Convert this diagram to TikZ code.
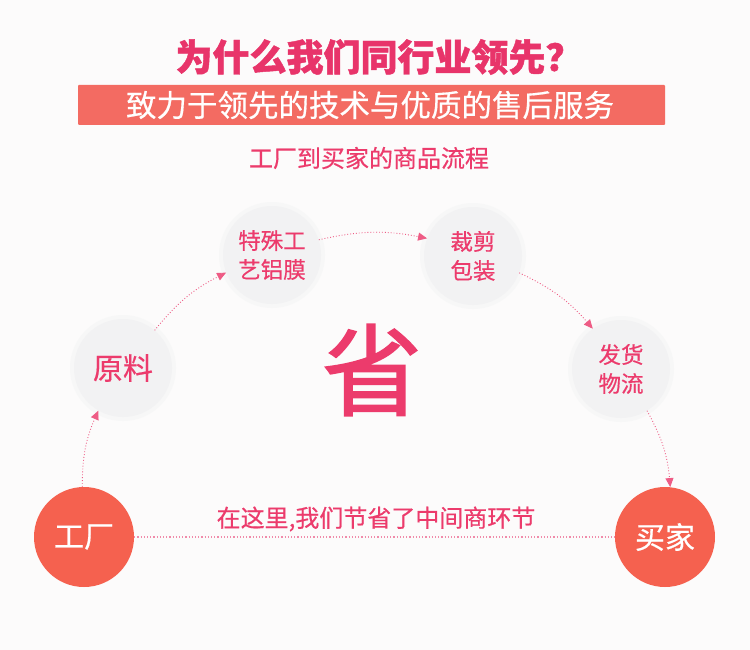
\documentclass[tikz,border=0pt]{standalone}
\usepackage{fontspec}
\setmainfont{Noto Sans CJK SC}
\newfontfamily\medfam[FakeBold=0.5]{Noto Sans CJK SC}
\newfontfamily\bigfam[FakeBold=1.6]{Noto Sans CJK SC}
\newfontfamily\titlefam[BoldFeatures={FakeBold=1.2}]{Noto Sans CJK SC}
\usetikzlibrary{arrows.meta}
\definecolor{bgc}{HTML}{FCFBFB}
\definecolor{titlec}{HTML}{E8346A}
\definecolor{bannerc}{HTML}{F36B62}
\definecolor{pinkt}{HTML}{EC3B6C}
\definecolor{redc}{HTML}{F5614F}
\definecolor{grayc}{HTML}{F2F2F3}
\definecolor{halo}{HTML}{F7F7F7}
\definecolor{linec}{HTML}{EE5C85}
\definecolor{dotc}{HTML}{F08BAA}
\tikzset{
  stepnode/.style={circle, fill=grayc, minimum size=98pt, inner sep=0pt, align=center,
     text=pinkt, font=\medfam\fontsize{22.5}{29}\selectfont},
  endnode/.style={circle, fill=redc, minimum size=100pt, inner sep=0pt,
     text=white, font=\medfam\fontsize{30}{34}\selectfont},
  flow/.style={draw=linec, line width=0.9pt, dotted, bend left=12,
     -{Triangle[length=9pt,width=8pt,fill=linec]}},
}
\begin{document}
\begin{tikzpicture}[x=1pt,y=-1pt]
\useasboundingbox (0,0) rectangle (750,650);
\fill[bgc] (0,0) rectangle (750,650);
% title
\node[text=titlec, font=\titlefam\bfseries\fontsize{37}{42}\selectfont] (title) at (379,57) {为什么我们同行业领先？};
\node[fill=bannerc, minimum width=587pt, minimum height=40pt, inner sep=0pt, rounded corners=1pt] (banner) at (371.5,105) {};
\node[text=white, font=\medfam\fontsize{30.5}{34}\selectfont] (bannertext) at (370,105) {致力于领先的技术与优质的售后服务};
\node[text=pinkt, font=\medfam\fontsize{24}{28}\selectfont] (sub) at (369,158) {工厂到买家的商品流程};
% big character
\node[text=pinkt, font=\bigfam\fontsize{100}{104}\selectfont] (sheng) at (372,370) {省};
% halos
\foreach \p in {(123,368),(272,255),(473,256),(621,369)} \fill[halo] \p circle (53);
% nodes
\node[stepnode, font=\medfam\fontsize{30}{34}\selectfont] (raw) at (123,368) {原料};
\node[stepnode] (film) at (272,255) {特殊工\\艺铝膜};
\node[stepnode] (cut) at (473,256) {裁剪\\包装};
\node[stepnode] (ship) at (621,369) {发货\\物流};
\node[endnode] (fac) at (84,537) {工厂};
\node[endnode] (buy) at (665,537) {买家};
% connectors
\draw[flow] (fac.92) to (raw.240);
\draw[flow] (raw.50) to (film.201);
\draw[flow] (film.18) to (cut.159);
\draw[flow] (cut.340) to (ship.125);
\draw[flow] (ship.302) to (buy.84);
\draw[dotc, line width=1.2pt, dotted] (fac.east) -- (buy.west);
\node[text=pinkt, font=\medfam\fontsize{24}{28}\selectfont] (note) at (376,519) {在这里,我们节省了中间商环节};
\end{tikzpicture}
\end{document}
